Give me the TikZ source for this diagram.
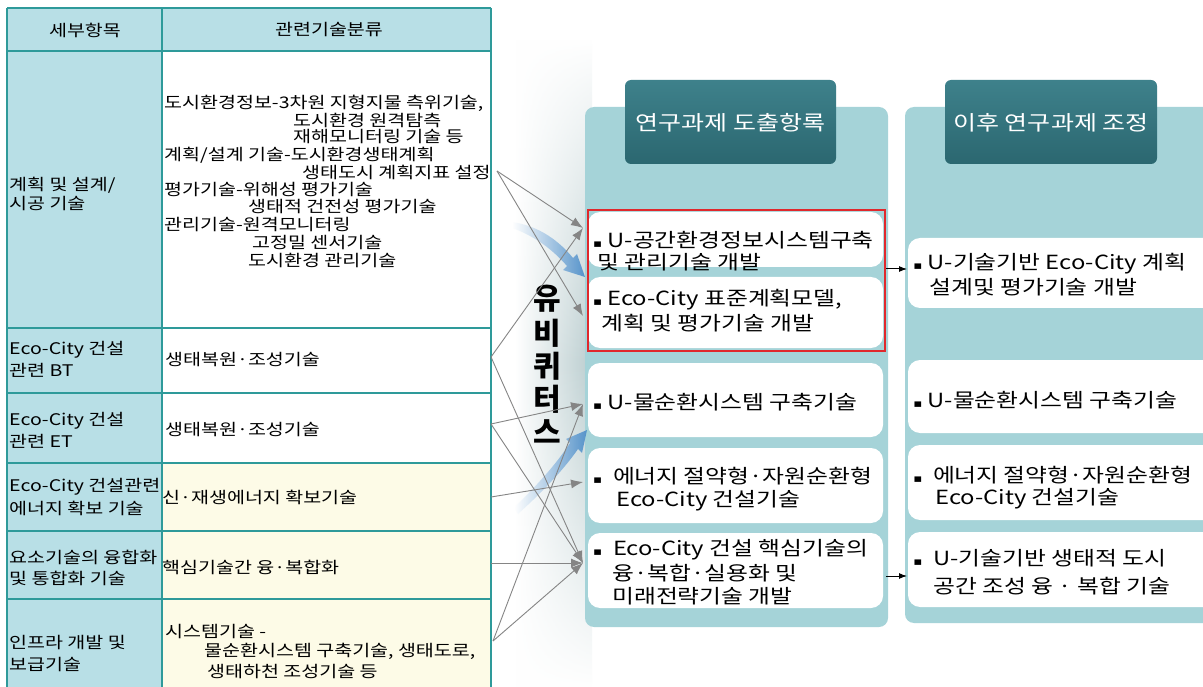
\documentclass[tikz,border=0pt]{standalone}
\usepackage{fontspec}
\newfontfamily\kr[WordSpace=2.4]{Noto Sans CJK KR}
\newfontfamily\krw{Noto Sans CJK KR}
\newfontfamily\sym{DejaVu Sans}
\usetikzlibrary{arrows.meta,fadings}
\definecolor{tealb}{HTML}{2E9A9A}
\definecolor{lblue}{HTML}{B8DFE6}
\definecolor{lyel}{HTML}{FDFBE7}
\definecolor{panelc}{HTML}{A5D3D8}
\definecolor{hdark}{HTML}{2B6770}
\definecolor{hlight}{HTML}{3E818B}
\definecolor{redb}{HTML}{E0282C}
\definecolor{arrowblue}{HTML}{4A8CC8}
\definecolor{bandc}{HTML}{BACDCF}
\definecolor{garrow}{HTML}{858585}
\newcommand{\bul}{{\sym\fontsize{11}{11}\selectfont ▪}}
\tikzfading[name=vfade, top color=transparent!100, bottom color=transparent!100, middle color=transparent!0]
\tikzset{
  tline/.style={draw=tealb, line width=1.6pt},
  ttxt/.style={anchor=west, inner sep=0pt, xscale=1.22, transform shape, font=\kr\fontsize{16}{17}\selectfont},
  ctxt/.style={anchor=center, inner sep=0pt, xscale=1.22, transform shape, font=\kr\fontsize{16}{17}\selectfont},
  btxt/.style={anchor=west, inner sep=0pt, xscale=1.22, transform shape, font=\kr\fontsize{19.5}{20}\selectfont},
  htxt/.style={anchor=center, inner sep=0pt, xscale=1.22, transform shape, text=white, font=\kr\fontsize{20.5}{22}\selectfont},
  panel/.style={fill=panelc, rounded corners=9pt},
  hbox/.style={top color=hlight, bottom color=hdark, rounded corners=6pt},
  wbox/.style={fill=white, rounded corners=12pt},
  garr/.style={draw=garrow, line width=0.9pt, -{Latex[length=12pt,width=9pt]}},
  barr/.style={draw=black, line width=1pt, -{Latex[length=8pt,width=6pt]}},
  ubtxt/.style={anchor=center, inner sep=0pt, font=\krw\bfseries\fontsize{30}{30}\selectfont}
}
\begin{document}
\begin{tikzpicture}[x=1pt,y=-1pt]
\useasboundingbox (0,0) rectangle (1203,687);
\fill[white] (0,0) rectangle (1203,687);
% background band behind the vertical word
\shade[left color=white, right color=bandc, path fading=vfade] (515,40) rectangle (592,687);
% ---------------- table ----------------
\fill[lblue] (7,8) rectangle (491,51);
\fill[lblue] (7,51) rectangle (162,690);
\fill[white] (162,51) rectangle (491,463);
\fill[lyel] (162,463) rectangle (491,690);
\foreach \yy in {8,51,328,393,463,531,599}
  \draw[tline] (7,\yy) -- (491,\yy);
\foreach \xx in {7,162,491}
  \draw[tline] (\xx,8) -- (\xx,690);
% header
\node[ctxt] (h1) at (85,30) {세부항목};
\node[ctxt] (h2) at (329,30) {관련기술분류};
% row 1
\node[ttxt] (l1a) at (9,185) {계획 및 설계/};
\node[ttxt] (l1b) at (9,204) {시공 기술};
\node[ttxt] (r1a) at (164,103) {도시환경정보-3차원 지형지물 측위기술,};
\node[ttxt] (r1b) at (293,120) {도시환경 원격탐측};
\node[ttxt] (r1c) at (293,137) {재해모니터링 기술 등};
\node[ttxt] (r1d) at (164,155) {계획/설계 기술-도시환경생태계획};
\node[ttxt] (r1e) at (302,172) {생태도시 계획지표 설정};
\node[ttxt] (r1f) at (164,190) {평가기술-위해성 평가기술};
\node[ttxt] (r1g) at (248,207) {생태적 건전성 평가기술};
\node[ttxt] (r1h) at (164,225) {관리기술-원격모니터링};
\node[ttxt] (r1i) at (252,243) {고정밀 센서기술};
\node[ttxt] (r1j) at (248,260) {도시환경 관리기술};
% row 2
\node[ttxt] (l2a) at (9,350) {Eco-City 건설};
\node[ttxt] (l2b) at (9,370) {관련 BT};
\node[ttxt] (r2) at (165,360) {생태복원·조성기술};
% row 3
\node[ttxt] (l3a) at (9,421) {Eco-City 건설};
\node[ttxt] (l3b) at (9,441) {관련 ET};
\node[ttxt] (r3) at (165,430) {생태복원·조성기술};
% row 4
\node[ttxt] (r4) at (162,497) {신·재생에너지 확보기술};
\node[ttxt] (l4a) at (9,487) {Eco-City 건설관련};
\node[ttxt] (l4b) at (9,508) {에너지 확보 기술};
% row 5
\node[ttxt] (r5) at (162,567) {핵심기술간 융·복합화};
\node[ttxt] (l5a) at (9,557) {요소기술의 융합화};
\node[ttxt] (l5b) at (9,578) {및 통합화 기술};
% row 6
\node[ttxt] (l6a) at (9,643) {인프라 개발 및};
\node[ttxt] (l6b) at (9,665) {보급기술};
\node[ttxt] (r6a) at (165,632) {시스템기술 -};
\node[ttxt] (r6b) at (204,651) {물순환시스템 구축기술, 생태도로,};
\node[ttxt] (r6c) at (207,672) {생태하천 조성기술 등};
% ---------------- panels ----------------
\path[panel] (585,107) rectangle (888,627);
\path[panel] (905,107) rectangle (1215,623);
\path[hbox] (625,80) rectangle (836,164);
\path[hbox] (945,80) rectangle (1157,164);
\node[htxt] (p1h) at (730.5,123) {연구과제 도출항록};
\node[htxt] (p2h) at (1051,123) {이후 연구과제 조정};
% white boxes panel 1
\path[wbox] (588,212) rectangle (883,267);
\path[wbox] (588,277) rectangle (883,348);
\path[wbox] (588,363) rectangle (883,437);
\path[wbox] (588,448) rectangle (883,523);
\path[wbox] (588,533) rectangle (883,608);
\draw[redb, line width=2pt] (588,210) rectangle (885,351);
% white boxes panel 2
\path[wbox] (908,238) rectangle (1215,308);
\path[wbox] (908,360) rectangle (1215,433);
\path[wbox] (908,445) rectangle (1215,520);
\path[wbox] (908,532) rectangle (1215,607);
% texts panel 1
\node[btxt] (b1a) at (593,240) {\bul\ U-공간환경정보시스템구축};
\node[btxt] (b1b) at (597,262) {및 관리기술 개발};
\node[btxt] (b2a) at (593,300) {\bul\ Eco-City 표준계획모델,};
\node[btxt] (b2b) at (601,323) {계획 및 평가기술 개발};
\node[btxt] (b3) at (593,402) {\bul\ U-물순환시스템 구축기술};
\node[btxt] (b4a) at (593,476) {\bul\ \ 에너지 절약형·자원순환형};
\node[btxt] (b4b) at (616,501) {Eco-City 건설기술};
\node[btxt] (b5a) at (593,550) {\bul\ \ Eco-City 건설 핵심기술의};
\node[btxt] (b5b) at (612,573) {융·복합·실용화 및};
\node[btxt] (b5c) at (612,596) {미래전략기술 개발};
% texts panel 2
\node[btxt] (c1a) at (913,264) {\bul\ U-기술기반 Eco-City 계획};
\node[btxt] (c1b) at (929,287) {설계및 평가기술 개발};
\node[btxt] (c2) at (913,400) {\bul\ U-물순환시스템 구축기술};
\node[btxt] (c3a) at (913,475) {\bul\ \ 에너지 절약형·자원순환형};
\node[btxt] (c3b) at (935,499) {Eco-City 건설기술};
\node[btxt] (c4a) at (913,558) {\bul\ \ U-기술기반 생태적 도시};
\node[btxt] (c4b) at (933,586) {공간 조성 융 · 복합 기술};
% vertical word
\node[ubtxt] (u1) at (547,299) {유};
\node[ubtxt] (u2) at (547,333) {비};
\node[ubtxt] (u3) at (547,366) {퀴};
\node[ubtxt] (u4) at (547,399) {터};
\node[ubtxt] (u5) at (547,432) {스};
% blue arrows
\shade[left color=white, right color=arrowblue, opacity=0.9]
  (512,222) .. controls (540,226) and (560,242) .. (573,258) -- (577,254) -- (585,277)
  -- (563,270) -- (567,266) .. controls (553,250) and (535,236) .. (512,228) -- cycle;
\shade[left color=white, right color=arrowblue, opacity=0.9]
  (514,508) .. controls (535,487) and (555,466) .. (570,443) -- (566,439) -- (587,430)
  -- (582,453) -- (578,449) .. controls (562,472) and (540,494) .. (518,514) -- cycle;
% connectors
\coordinate (s1) at (497,171);
\coordinate (s2) at (491,357);
\coordinate (s3) at (491,424);
\coordinate (s4) at (491,497);
\coordinate (s5) at (491,563);
\coordinate (s6) at (493,641);
\coordinate (t1) at (583,228);
\coordinate (t2) at (583,316);
\coordinate (t3) at (583,404);
\coordinate (t4) at (583,482);
\coordinate (t5) at (583,563);
\draw[garr] (s1) -- (t1);
\draw[garr] (s1) -- (t2);
\draw[garr] (s2) -- (t1);
\draw[garr] (s2) -- (t5);
\draw[garr] (s3) -- (t3);
\draw[garr] (s3) -- (t5);
\draw[garr] (s4) -- (t4);
\draw[garr] (s5) -- (t5);
\draw[garr] (s6) -- (t3);
\draw[garr] (s6) -- (t5);
\coordinate (ra) at (886,269);
\coordinate (rb) at (907,269);
\coordinate (rc) at (886,576);
\coordinate (rd) at (907,576);
\draw[barr] (ra) -- (rb);
\draw[barr] (rc) -- (rd);
\end{tikzpicture}
\end{document}
